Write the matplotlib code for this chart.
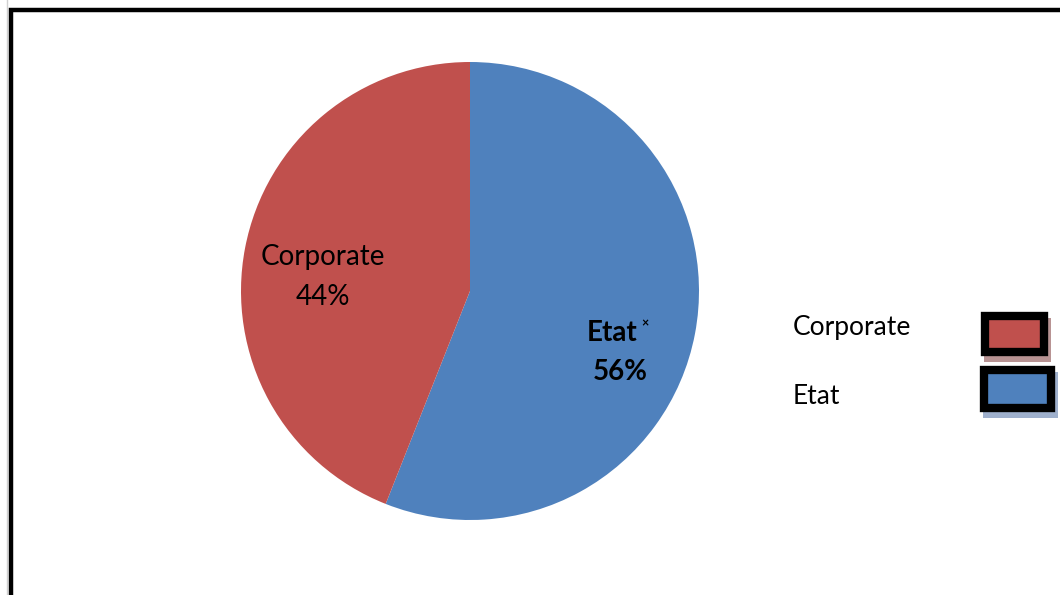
import matplotlib
matplotlib.use("Agg")
import matplotlib.pyplot as plt
from matplotlib.patches import Rectangle

labels = ["Etat", "Corporate"]
shares = [56, 44]
colors = ["#4F81BD", "#C0504D"]
legend_order = ["Corporate", "Etat"]
shadow_colors = {"Corporate": "#b89393", "Etat": "#9fb0cc"}

plt.rcParams["font.family"] = ["Lato", "DejaVu Sans"]

W, H = 1060, 595
fig = plt.figure(figsize=(W / 100, H / 100), dpi=100)


def px(x, y):
    # pixel position (from top-left) -> figure fraction
    return x / W, 1 - y / H


# outer frame (only top and left edges show inside the canvas)
fig.patches.append(Rectangle((7 / W, -0.1), 1.2, 1.2,
                             transform=fig.transFigure, fill=False,
                             edgecolor="#d0d0d0", linewidth=1))
fig.patches.append(Rectangle((10.5 / W, -0.1), 1.2, (595 - 9.5) / H + 0.1,
                             transform=fig.transFigure, fill=False,
                             edgecolor="black", linewidth=3.2))

cx, cy, r = 470, 291, 229
ax = fig.add_axes([(cx - r) / W, (H - cy - r) / H, 2 * r / W, 2 * r / H])
wedges, _ = ax.pie(shares, colors=colors, startangle=90, counterclock=False,
                   radius=1.0, wedgeprops=dict(linewidth=0))
ax.set_xlim(-1, 1)
ax.set_ylim(-1, 1)
ax.set_aspect("equal")
ax.axis("off")

# wedge labels
val = dict(zip(labels, shares))
fig.text(*px(323, 257), "Corporate", ha="center", va="center",
         fontsize=20, color="black")
fig.text(*px(323, 297), f"{val['Corporate']}%", ha="center", va="center",
         fontsize=20, color="black")
fig.text(*px(612, 333), "Etat", ha="center", va="center",
         fontsize=20, fontweight="bold", color="black")
fig.text(*px(645, 323), "×", ha="center", va="center",
         fontsize=9, fontweight="bold", color="black")
fig.text(*px(620, 372), f"{val['Etat']}%", ha="center", va="center",
         fontsize=20, fontweight="bold", color="black")

# legend: outer box extents in pixels (x0, y0, x1, y1)
entries = dict(zip(labels, colors))
boxes = {"Corporate": (981, 312, 1048, 356), "Etat": (980, 366, 1055, 412)}
for i, lab in enumerate(legend_order):
    ty = 328 + i * 68
    fig.text(*px(793, ty), lab, ha="left", va="center",
             fontsize=19, color="black")
    x0, y0, x1, y1 = boxes[lab]
    # shadow offset to the lower right
    fig.patches.append(Rectangle(px(x0 + 3, y1 + 6), (x1 - x0) / W, (y1 - y0) / H,
                                 transform=fig.transFigure,
                                 facecolor=shadow_colors[lab], edgecolor="none"))
    fig.patches.append(Rectangle(px(x0 + 4, y1 - 4), (x1 - x0 - 8) / W, (y1 - y0 - 8) / H,
                                 transform=fig.transFigure, facecolor=entries[lab],
                                 edgecolor="black", linewidth=6))

fig.savefig("out.png", dpi=100)
